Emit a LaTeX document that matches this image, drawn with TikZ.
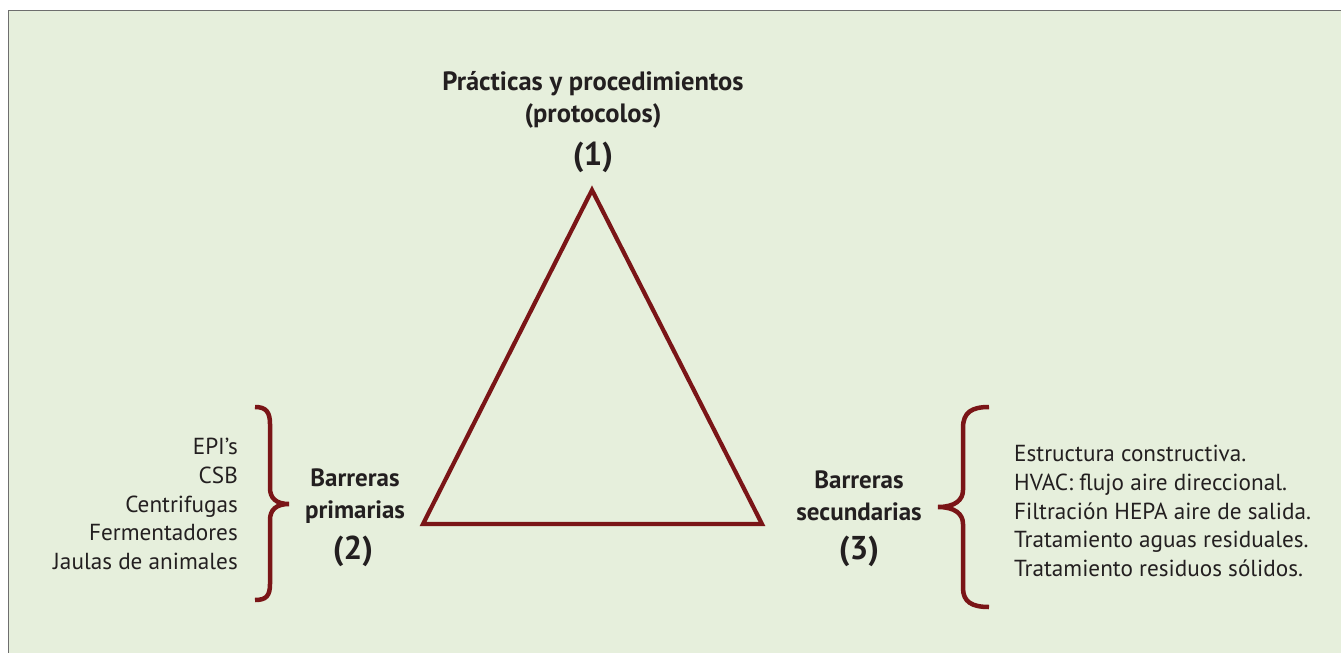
\documentclass[tikz,border=0pt]{standalone}
\usepackage{fontspec}
\setmainfont{PT Sans}
\definecolor{bg}{HTML}{E6EFDC}
\definecolor{frame}{HTML}{6E6E6E}
\definecolor{wine}{HTML}{7A1517}
\definecolor{ink}{HTML}{231F20}
\begin{document}
\begin{tikzpicture}[x=1pt,y=-1pt,
  listtext/.style={text=ink,inner sep=0pt,font=\fontsize{23.2}{28.6}\selectfont},
  headtext/.style={text=ink,inner sep=0pt,align=center,font=\bfseries\fontsize{25}{32}\selectfont},
  toptext/.style={text=ink,inner sep=0pt,align=center,font=\bfseries\fontsize{26.5}{32}\selectfont},
  numtext/.style={text=ink,inner sep=0pt,font=\bfseries\fontsize{33}{34}\selectfont},
  wineline/.style={draw=wine,line width=4.2pt,line join=miter},
  bracestyle/.style={draw=wine,line width=4.5pt,line cap=butt}]
\useasboundingbox (0,0) rectangle (1341,653);
\fill[white] (0,0) rectangle (1341,653);
\fill[bg] (8,10) rectangle (1341,653);
\draw[frame,line width=1.6pt] (8.5,653) -- (8.5,10.5) -- (1341,10.5);
% triangle
\coordinate (A) at (592,190);
\coordinate (B) at (423,524);
\coordinate (C) at (762,524);
\draw[wineline] (A) -- (B) -- (C) -- cycle;
% top label
\node[toptext] (t1) at (593,100) {Prácticas y procedimientos\\(protocolos)};
\node[numtext] (n1) at (593,157) {(1)};
% left
\node[headtext] (t2) at (355,496) {Barreras\\primarias};
\node[numtext] (n2) at (353,551) {(2)};
\node[listtext,align=right,anchor=east] (l2) at (238,504) {EPI’s\\CSB\\Centrifugas\\Fermentadores\\Jaulas de animales};
% right
\node[headtext] (t3) at (859,496) {Barreras\\secundarias};
\node[numtext] (n3) at (859,551) {(3)};
\node[listtext,align=left,anchor=west] (l3) at (1014,511) {Estructura constructiva.\\HVAC: flujo aire direccional.\\Filtración HEPA aire de salida.\\Tratamiento aguas residuales.\\Tratamiento residuos sólidos.};
% braces
\coordinate (lb1) at (255,407);
\coordinate (lbt) at (289,504);
\coordinate (lb2) at (255,600);
\draw[bracestyle] (lb1) .. controls (266,407) and (270,412) .. (270,424)
  -- (270,488) .. controls (270,498) and (276,504) .. (lbt)
  .. controls (276,504) and (270,510) .. (270,520)
  -- (270,584) .. controls (270,596) and (266,600) .. (lb2);
\coordinate (rb1) at (989,407);
\coordinate (rbt) at (938,507);
\coordinate (rb2) at (989,607);
\draw[bracestyle] (rb1) .. controls (972,407) and (963,412) .. (963,428)
  -- (963,490) .. controls (963,500) and (955,507) .. (rbt)
  .. controls (955,507) and (963,514) .. (963,524)
  -- (963,588) .. controls (963,602) and (972,607) .. (rb2);
\end{tikzpicture}
\end{document}
